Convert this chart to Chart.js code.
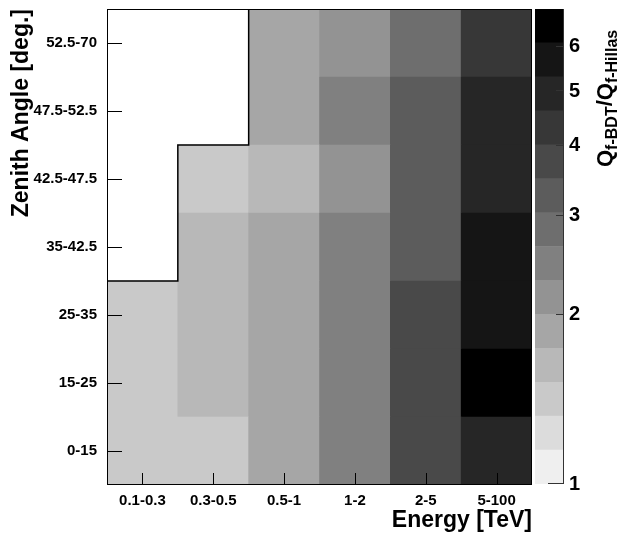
<!DOCTYPE html>
<html>
<head>
<meta charset="utf-8">
<script src="https://cdn.jsdelivr.net/npm/chart.js@4/dist/chart.umd.min.js"></script>
<style>
  body { margin: 0; background: #fff; }
  #wrap { position: relative; width: 635px; height: 534px; }
  #grafico { position: absolute; left: 0; top: 0; }
  #escala { position: absolute; left: 530px; top: 0; }
</style>
</head>
<body>
<div id="wrap">
  <canvas id="grafico" width="635" height="534"></canvas>
  <canvas id="escala" width="105" height="534"></canvas>
</div>
<script>
// categorias
const energyBins = ['0.1-0.3', '0.3-0.5', '0.5-1', '1-2', '2-5', '5-100'];
const zenithBins = ['0-15', '15-25', '25-35', '35-42.5', '42.5-47.5', '47.5-52.5', '52.5-70'];

// Q_f-BDT / Q_f-Hillas, uma linha por faixa de zenite (null = sem dados)
const row0_15   = [1.42, 1.45, 1.85, 2.45, 3.7, 4.9];
const row15_25  = [1.42, 1.62, 1.85, 2.45, 3.7, 6.4];
const row25_35  = [1.42, 1.62, 1.85, 2.45, 3.7, 5.7];
const row35_42  = [null, 1.62, 1.85, 2.45, 3.25, 5.6];
const row42_47  = [null, 1.42, 1.62, 2.15, 3.25, 4.9];
const row47_52  = [null, null, 1.85, 2.45, 3.25, 4.9];
const row52_70  = [null, null, 1.85, 2.15, 2.85, 4.3];
const rows = [row0_15, row15_25, row25_35, row35_42, row42_47, row47_52, row52_70];

// escala de cores (log, 1 a 7)
const zMin = 1, zMax = 7;
const zTicks = [1, 2, 3, 4, 5, 6];
const palette = ['#efefef', '#dcdcdc', '#c9c9c9', '#b8b8b8', '#a6a6a6', '#939393', '#808080',
                 '#6e6e6e', '#5c5c5c', '#494949', '#373737', '#262626', '#151515', '#000000'];

Chart.defaults.font.family = '"Liberation Sans", Arial, sans-serif';
Chart.defaults.font.weight = 'bold';
Chart.defaults.color = '#000';

function corPara(v) {
  let k = Math.floor(palette.length * Math.log(v / zMin) / Math.log(zMax / zMin));
  k = Math.max(0, Math.min(palette.length - 1, k));
  return palette[k];
}
function borda(k) {
  return zMin * Math.pow(zMax / zMin, k / palette.length);
}

// contorno da regiao vazia
const alturas = energyBins.map((_, c) => rows.filter(r => r[c] !== null).length);
const contorno = [];
alturas.forEach((h, c) => {
  contorno.push({x: c, y: h});
  contorno.push({x: c + 1, y: h});
});

const datasets = rows.map((r, i) => ({
  type: 'bar',
  data: r.map(v => v === null ? null : [i, i + 1]),
  backgroundColor: r.map(v => v === null ? 'rgba(0,0,0,0)' : corPara(v)),
  borderWidth: 0,
  grouped: false,
  barPercentage: 1,
  categoryPercentage: 1,
  order: 1
}));
datasets.push({
  type: 'line',
  xAxisID: 'xl',
  data: contorno,
  borderColor: '#000',
  borderWidth: 1.5,
  pointRadius: 0,
  fill: false,
  tension: 0,
  order: 0
});

const moldura = {
  id: 'moldura',
  afterDatasetsDraw(chart) {
    const ctx = chart.ctx;
    const a = chart.chartArea;
    ctx.save();
    ctx.strokeStyle = '#000';
    ctx.lineWidth = 1;
    chart.scales.x.ticks.forEach((t, i) => {
      const px = Math.round(chart.scales.x.getPixelForValue(i)) + 0.5;
      ctx.beginPath(); ctx.moveTo(px, a.bottom); ctx.lineTo(px, a.bottom - 12); ctx.stroke();
    });
    chart.scales.y.ticks.forEach(t => {
      const py = Math.round(chart.scales.y.getPixelForValue(t.value)) + 0.5;
      ctx.beginPath(); ctx.moveTo(a.left, py); ctx.lineTo(a.left + 15, py); ctx.stroke();
    });
    ctx.strokeRect(a.left + 0.5, a.top + 0.5, a.right - a.left - 1, a.bottom - a.top - 1);
    ctx.restore();
  }
};

new Chart(document.getElementById('grafico'), {
  type: 'bar',
  data: { labels: energyBins, datasets: datasets },
  options: {
    responsive: false,
    animation: false,
    layout: { padding: { left: 0, right: 103, top: 9, bottom: 0 } },
    plugins: { legend: { display: false }, tooltip: { enabled: false } },
    scales: {
      x: {
        type: 'category',
        grid: { display: false, drawTicks: false },
        border: { display: false },
        ticks: { font: { size: 15, weight: 'bold' }, padding: 7, maxRotation: 0 },
        title: { display: true, text: 'Energy [TeV]', align: 'end',
                 font: { size: 23, weight: 'bold' }, padding: { top: 0, bottom: 0 } },
        afterFit(s) { s.height = 49; s.paddingLeft = 0; s.paddingRight = 0; }
      },
      xl: { type: 'linear', min: 0, max: 6, offset: false, display: false },
      y: {
        type: 'linear', min: 0, max: 7,
        grid: { display: false, drawTicks: false },
        border: { display: false },
        afterBuildTicks(s) { s.ticks = zenithBins.map((_, i) => ({ value: i + 0.5 })); },
        ticks: { font: { size: 15, weight: 'bold' }, padding: 10,
                 callback: v => zenithBins[Math.floor(v)] },
        title: { display: true, text: 'Zenith Angle [deg.]', align: 'end',
                 font: { size: 23, weight: 'bold' }, padding: { top: 8, bottom: 0 } },
        afterFit(s) { s.width = 107; s.paddingTop = 0; s.paddingBottom = 0; }
      }
    }
  },
  plugins: [moldura]
});

// barra de cores
const escalaPlugin = {
  id: 'escalaPlugin',
  afterDraw(chart) {
    const ctx = chart.ctx;
    const a = chart.chartArea;
    const y = chart.scales.y;
    ctx.save();
    ctx.strokeStyle = '#333';
    ctx.lineWidth = 1;
    ctx.beginPath(); ctx.moveTo(a.right + 0.5, a.top); ctx.lineTo(a.right + 0.5, a.bottom); ctx.stroke();
    zTicks.forEach(v => {
      const py = Math.round(y.getPixelForValue(v)) - 0.5;
      const len = v === 1 ? 15 : 7;
      ctx.beginPath(); ctx.moveTo(a.right, py); ctx.lineTo(a.right - len, py); ctx.stroke();
    });
    // titulo do eixo z
    ctx.translate(82, 167);
    ctx.rotate(-Math.PI / 2);
    ctx.fillStyle = '#000';
    ctx.textBaseline = 'alphabetic';
    const grande = 'bold 22px "Liberation Sans", Arial, sans-serif';
    const pequeno = 'bold 16px "Liberation Sans", Arial, sans-serif';
    let x = 0;
    [['Q', grande, 0], ['f-BDT', pequeno, 5], ['/Q', grande, 0], ['f-Hillas', pequeno, 5]].forEach(p => {
      ctx.font = p[1];
      ctx.fillText(p[0], x, p[2]);
      x += ctx.measureText(p[0]).width;
    });
    ctx.restore();
  }
};

new Chart(document.getElementById('escala'), {
  type: 'bar',
  data: {
    labels: [''],
    datasets: palette.map((c, k) => ({
      data: [[borda(k), borda(k + 1)]],
      backgroundColor: c,
      borderWidth: 0,
      grouped: false,
      barPercentage: 1,
      categoryPercentage: 1
    }))
  },
  options: {
    responsive: false,
    animation: false,
    layout: { padding: { left: 5, right: 0, top: 9, bottom: 50 } },
    plugins: { legend: { display: false }, tooltip: { enabled: false } },
    scales: {
      x: { display: false },
      y: {
        type: 'logarithmic', position: 'right', min: zMin, max: zMax,
        grid: { display: false, drawTicks: false },
        border: { display: false },
        afterBuildTicks(s) { s.ticks = zTicks.map(v => ({ value: v })); },
        ticks: { font: { size: 20, weight: 'bold' }, padding: 6, callback: v => String(v) },
        afterFit(s) { s.width = 72; s.paddingTop = 0; s.paddingBottom = 0; }
      }
    }
  },
  plugins: [escalaPlugin]
});
</script>
</body>
</html>
